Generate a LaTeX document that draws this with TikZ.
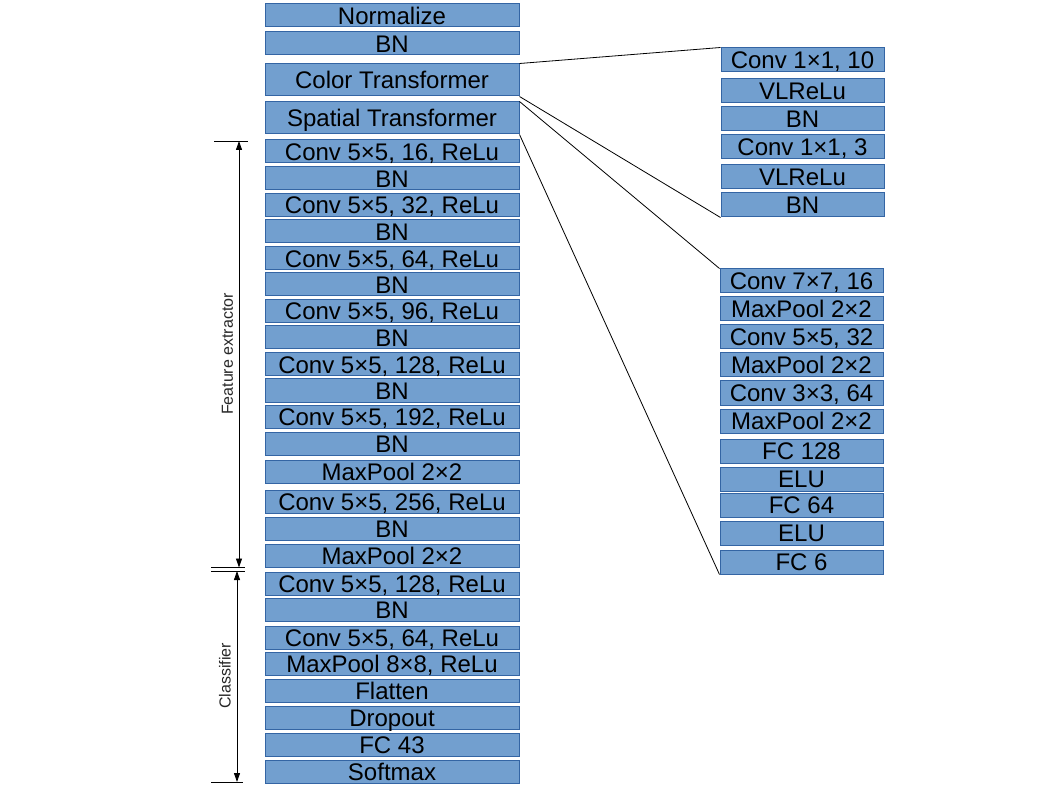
\documentclass[tikz,border=0pt]{standalone}
\usepackage{fontspec}
\setmainfont{Liberation Sans}
\usetikzlibrary{arrows.meta}
\definecolor{boxfill}{HTML}{729FCF}
\definecolor{boxline}{HTML}{3465A4}
\tikzset{
  blk/.style={rectangle, draw=boxline, fill=boxfill, line width=1pt, inner sep=0pt,
    text height=17.1pt, text depth=0pt, font=\fontsize{24}{24}\selectfont, text=black},
  lbox/.style={blk, minimum width=254pt, minimum height=23pt},
  tbox/.style={blk, minimum width=254pt, minimum height=32pt},
  rbox/.style={blk, minimum width=163pt, minimum height=24pt},
  link/.style={draw=black, line width=0.8pt},
  dim/.style={draw=black, line width=0.9pt},
  dimarrow/.style={dim, {Triangle[length=9pt,width=6pt]}-{Triangle[length=9pt,width=6pt]}},
  lab/.style={font=\fontsize{16}{16}\selectfont, text=black!85, rotate=90, inner sep=0pt}
}
\begin{document}
\begin{tikzpicture}[x=1pt,y=-1pt]
\useasboundingbox (0,0) rectangle (1058,794);
% left column
\node[lbox] (norm) at (392,15.5) {Normalize};
\node[lbox] (bn0) at (392,43.5) {BN};
\node[tbox] (color) at (392,80) {Color Transformer};
\node[tbox] (spatial) at (392,118) {Spatial Transformer};
\node[lbox] (c16) at (392,151.5) {Conv 5×5, 16, ReLu};
\node[lbox] (b1) at (392,178.5) {BN};
\node[lbox] (c32) at (392,205) {Conv 5×5, 32, ReLu};
\node[lbox] (b2) at (392,231.5) {BN};
\node[lbox] (c64) at (392,258.5) {Conv 5×5, 64, ReLu};
\node[lbox] (b3) at (392,284.5) {BN};
\node[lbox] (c96) at (392,311) {Conv 5×5, 96, ReLu};
\node[lbox] (b4) at (392,337.5) {BN};
\node[lbox] (c128) at (392,364.5) {Conv 5×5, 128, ReLu};
\node[lbox] (b5) at (392,390.5) {BN};
\node[lbox] (c192) at (392,417) {Conv 5×5, 192, ReLu};
\node[lbox] (b6) at (392,443.5) {BN};
\node[lbox] (mp1) at (392,471.5) {MaxPool 2×2};
\node[lbox] (c256) at (392,501.5) {Conv 5×5, 256, ReLu};
\node[lbox] (b7) at (392,528.5) {BN};
\node[lbox] (mp2) at (392,555.5) {MaxPool 2×2};
\node[lbox] (k1) at (392,583.5) {Conv 5×5, 128, ReLu};
\node[lbox] (k2) at (392,609.5) {BN};
\node[lbox] (k3) at (392,637.5) {Conv 5×5, 64, ReLu};
\node[lbox] (k4) at (392,663.5) {MaxPool 8×8, ReLu};
\node[lbox] (k5) at (392,690.5) {Flatten};
\node[lbox] (k6) at (392,717.5) {Dropout};
\node[lbox] (k7) at (392,744.5) {FC 43};
\node[lbox] (k8) at (392,771.5) {Softmax};
% color transformer detail
\node[rbox] (r1) at (802.5,60) {Conv 1×1, 10};
\node[rbox] (r2) at (802.5,91) {VLReLu};
\node[rbox] (r3) at (802.5,119) {BN};
\node[rbox] (r4) at (802.5,147) {Conv 1×1, 3};
\node[rbox] (r5) at (802.5,177) {VLReLu};
\node[rbox] (r6) at (802.5,205) {BN};
% spatial transformer detail
\node[rbox] (s1) at (801.5,281) {Conv 7×7, 16};
\node[rbox] (s2) at (801.5,309) {MaxPool 2×2};
\node[rbox] (s3) at (801.5,337) {Conv 5×5, 32};
\node[rbox] (s4) at (801.5,365) {MaxPool 2×2};
\node[rbox] (s5) at (801.5,393) {Conv 3×3, 64};
\node[rbox] (s6) at (801.5,421) {MaxPool 2×2};
\node[rbox] (s7) at (801.5,451) {FC 128};
\node[rbox] (s8) at (801.5,479) {ELU};
\node[rbox] (s9) at (801.5,505) {FC 64};
\node[rbox] (s10) at (801.5,533) {ELU};
\node[rbox] (s11) at (801.5,562) {FC 6};
% expansion lines
\draw[link] (color.north east) -- (r1.north west);
\draw[link] (color.south east) -- (r6.south west);
\draw[link] (spatial.north east) -- (s1.north west);
\draw[link] (spatial.south east) -- (s11.south west);
% dimension marks
\coordinate (t1a) at (214,141); \coordinate (t1b) at (248,141);
\coordinate (t2a) at (211,567.5); \coordinate (t2b) at (245,567.5);
\coordinate (t3a) at (211,571); \coordinate (t3b) at (245,571);
\coordinate (t4a) at (211,782); \coordinate (t4b) at (243,782);
\coordinate (fe1) at (239,141); \coordinate (fe2) at (239,567.5);
\coordinate (cl1) at (237,571); \coordinate (cl2) at (237,782);
\draw[dim] (t1a) -- (t1b);
\draw[dim] (t2a) -- (t2b);
\draw[dim] (t3a) -- (t3b);
\draw[dim] (t4a) -- (t4b);
\draw[dimarrow] (fe1) -- (fe2);
\draw[dimarrow] (cl1) -- (cl2);
\node[lab] (felab) at (227.5,354) {Feature extractor};
\node[lab] (cllab) at (225,676) {Classifier};
\end{tikzpicture}
\end{document}
